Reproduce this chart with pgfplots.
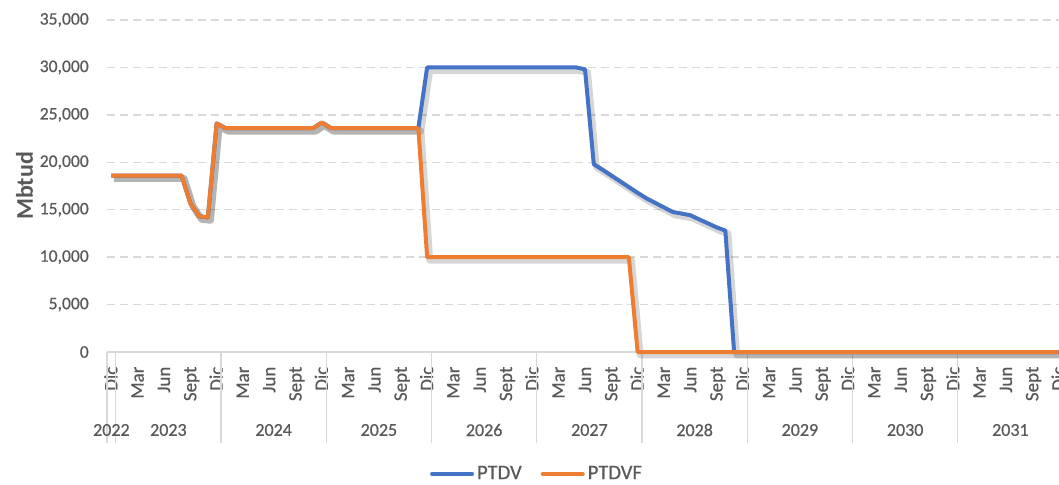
\documentclass[border=0pt]{standalone}
\usepackage{fontspec}
\setmainfont{Carlito}
\newfontfamily\lbl{Carlito}[FakeBold=0.6]
\usepackage{pgfplots}
\pgfplotsset{compat=1.18}
\usepackage{pgfplotstable}
\definecolor{cptdv}{HTML}{4472C4}
\definecolor{cptdvf}{HTML}{ED7D31}
\definecolor{gridgray}{HTML}{D9D9D9}
\definecolor{labelgray}{HTML}{595959}

\pgfplotstableread{
x ptdv ptdvf
0 18600 18600
1 18600 18600
2 18600 18600
3 18600 18600
4 18600 18600
5 18600 18600
6 18600 18600
7 18600 18600
8 18600 18600
9 15700 15700
10 14300 14300
11 14200 14200
12 24100 24100
13 23600 23600
14 23600 23600
15 23600 23600
16 23600 23600
17 23600 23600
18 23600 23600
19 23600 23600
20 23600 23600
21 23600 23600
22 23600 23600
23 23600 23600
24 24200 24200
25 23600 23600
26 23600 23600
27 23600 23600
28 23600 23600
29 23600 23600
30 23600 23600
31 23600 23600
32 23600 23600
33 23600 23600
34 23600 23600
35 23600 23600
36 30000 10000
37 30000 10000
38 30000 10000
39 30000 10000
40 30000 10000
41 30000 10000
42 30000 10000
43 30000 10000
44 30000 10000
45 30000 10000
46 30000 10000
47 30000 10000
48 30000 10000
49 30000 10000
50 30000 10000
51 30000 10000
52 30000 10000
53 30000 10000
54 29800 10000
55 19800 10000
56 19210 10000
57 18600 10000
58 17990 10000
59 17380 10000
60 16770 0
61 16200 0
62 15720 0
63 15240 0
64 14760 0
65 14600 0
66 14420 0
67 13990 0
68 13570 0
69 13140 0
70 12800 0
71 0 0
72 0 0
73 0 0
74 0 0
75 0 0
76 0 0
77 0 0
78 0 0
79 0 0
80 0 0
81 0 0
82 0 0
83 0 0
84 0 0
85 0 0
86 0 0
87 0 0
88 0 0
89 0 0
90 0 0
91 0 0
92 0 0
93 0 0
94 0 0
95 0 0
96 0 0
97 0 0
98 0 0
99 0 0
100 0 0
101 0 0
102 0 0
103 0 0
104 0 0
105 0 0
106 0 0
107 0 0
108 0 0
}\data

\begin{document}
\begin{tikzpicture}
\useasboundingbox (0,0) rectangle (529.5pt,242pt);
\begin{axis}[
  at={(53.5pt,66pt)}, anchor=south west,
  scale only axis, width=478pt, height=166pt,
  xmin=-0.5, xmax=108.5, ymin=0, ymax=35000,
  clip=false,
  axis x line*=bottom, axis y line*=left,
  x axis line style={draw=gridgray, line width=0.75pt, -},
  y axis line style={draw=none, -},
  tick align=outside,
  major tick length=0pt,
  tick style={draw=gridgray, line width=0.6pt},
  ytick={0,5000,...,35000},
  scaled y ticks=false,
  /pgf/number format/fixed,
  /pgf/number format/1000 sep={,},
  /pgf/number format/assume math mode=true,
  ymajorgrids,
  y grid style={draw=gridgray, line width=0.75pt, dash pattern=on 4pt off 2.5pt},
  yticklabel style={font=\lbl\fontsize{8.8}{10}\selectfont, text=labelgray},
  yticklabel shift=5.6pt,
  xtick={0,3,...,108},
  xticklabels={Dic,Mar,Jun,Sept,Dic,Mar,Jun,Sept,Dic,Mar,Jun,Sept,Dic,Mar,Jun,Sept,Dic,Mar,Jun,Sept,Dic,Mar,Jun,Sept,Dic,Mar,Jun,Sept,Dic,Mar,Jun,Sept,Dic,Mar,Jun,Sept,Dic},
  xticklabel style={rotate=90, anchor=east, font=\lbl\fontsize{9.5}{10}\selectfont, text=labelgray, text height=1.5ex, text depth=0.25ex},
  xticklabel shift=3.8pt,
  extra x ticks={-0.5,0.5,12.5,24.5,36.5,48.5,60.5,72.5,84.5,96.5,108.5},
  extra x tick labels={},
  extra x tick style={major tick length=45.5pt},
  every axis y label/.style={at={(axis description cs:-0.0863,0.5)}, rotate=90, anchor=center},
  ylabel={Mbtud},
  ylabel style={font=\bfseries\fontsize{12}{14}\selectfont, text=labelgray},
  legend style={at={(axis description cs:0.4503,-0.3675)}, anchor=center, draw=none, fill=none,
    legend columns=-1, font=\lbl\fontsize{10.3}{12}\selectfont, text=labelgray,
    /tikz/every even column/.append style={column sep=8pt}, inner sep=0pt, nodes={inner sep=1.5pt}},
  legend image code/.code={\draw[#1, line cap=round] (0pt,0pt) -- (20pt,0pt);},
]
\addplot[forget plot, draw=black, opacity=0.16, line width=3.4pt, line join=round, mark=none, xshift=1.3pt, yshift=-1.5pt] table[x=x,y=ptdv]{\data};
\addplot[draw=cptdv, line width=2pt, line join=round, mark=none] table[x=x,y=ptdv]{\data};
\addplot[forget plot, draw=black, opacity=0.16, line width=3.4pt, line join=round, mark=none, xshift=1.3pt, yshift=-1.5pt] table[x=x,y=ptdvf]{\data};
\addplot[draw=cptdvf, line width=2pt, line join=round, mark=none] table[x=x,y=ptdvf]{\data};
\legend{PTDV,PTDVF}
\node[font=\lbl\fontsize{9}{10}\selectfont, text=labelgray] at ([yshift=-39pt]axis cs:0,0) {2022};
\node[font=\lbl\fontsize{9}{10}\selectfont, text=labelgray] at ([yshift=-39pt]axis cs:6.5,0) {2023};
\node[font=\lbl\fontsize{9}{10}\selectfont, text=labelgray] at ([yshift=-39pt]axis cs:18.5,0) {2024};
\node[font=\lbl\fontsize{9}{10}\selectfont, text=labelgray] at ([yshift=-39pt]axis cs:30.5,0) {2025};
\node[font=\lbl\fontsize{9}{10}\selectfont, text=labelgray] at ([yshift=-39pt]axis cs:42.5,0) {2026};
\node[font=\lbl\fontsize{9}{10}\selectfont, text=labelgray] at ([yshift=-39pt]axis cs:54.5,0) {2027};
\node[font=\lbl\fontsize{9}{10}\selectfont, text=labelgray] at ([yshift=-39pt]axis cs:66.5,0) {2028};
\node[font=\lbl\fontsize{9}{10}\selectfont, text=labelgray] at ([yshift=-39pt]axis cs:78.5,0) {2029};
\node[font=\lbl\fontsize{9}{10}\selectfont, text=labelgray] at ([yshift=-39pt]axis cs:90.5,0) {2030};
\node[font=\lbl\fontsize{9}{10}\selectfont, text=labelgray] at ([yshift=-39pt]axis cs:102.5,0) {2031};
\end{axis}
\end{tikzpicture}
\end{document}
